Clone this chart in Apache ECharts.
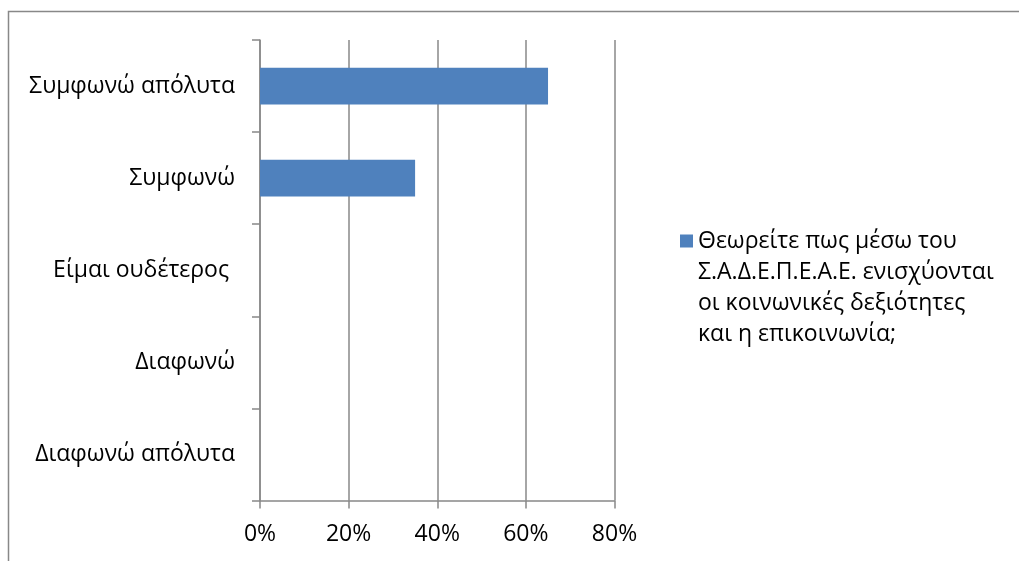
<!DOCTYPE html>
<html>
<head>
<meta charset="utf-8">
<script src="https://cdn.jsdelivr.net/npm/echarts@6/dist/echarts.min.js"></script>
<style>
  html, body { margin: 0; padding: 0; background: #ffffff; }
  #chart { width: 1019px; height: 561px; }
</style>
</head>
<body>
<div id="chart"></div>
<script>
// Answer categories, listed from the bottom of the axis to the top
const categories = ['Διαφωνώ απόλυτα', 'Διαφωνώ', 'Είμαι ουδέτερος ', 'Συμφωνώ', 'Συμφωνώ απόλυτα'];
// Share of responses per category (percent)
const shares = [0, 0, 0, 35, 65];
// Series name shown in the legend, wrapped over four lines
const seriesName = 'Θεωρείτε πως μέσω του Σ.Α.Δ.Ε.Π.Ε.Α.Ε. ενισχύονται οι κοινωνικές δεξιότητες και η επικοινωνία;';
const legendLines = ['Θεωρείτε πως μέσω του', 'Σ.Α.Δ.Ε.Π.Ε.Α.Ε. ενισχύονται', 'οι κοινωνικές δεξιότητες', 'και η επικοινωνία;'];
// Percent axis range and step
const axisMin = 0, axisMax = 80, axisStep = 20;

const FONT = 'Open Sans';
const FS = 23;
const LINE_H = 31;
const GREY = '#888888';

// The legend text block is centred on its swatch, so blank lines are put
// in front of the name to keep the swatch level with the first line.
const padLines = legendLines.length - 1;
const legendText = '\n'.repeat(padLines) + legendLines.join('\n');
const legendBlockH = LINE_H * (legendLines.length + padLines);

const chart = echarts.init(document.getElementById('chart'), null, { renderer: 'canvas' });

chart.setOption({
  animation: false,
  backgroundColor: '#ffffff',
  textStyle: { fontFamily: FONT },
  grid: { left: 260, top: 40, right: 404.5, bottom: 60.5, containLabel: false },
  graphic: [
    {
      type: 'rect',
      shape: { x: 8.5, y: 11.5, width: 2000, height: 2000 },
      style: { fill: 'none', stroke: GREY, lineWidth: 1.5 },
      silent: true
    }
  ],
  legend: {
    show: true,
    left: 680,
    top: 241 - legendBlockH / 2,
    padding: 0,
    itemWidth: 13,
    itemHeight: 13,
    icon: 'rect',
    data: [seriesName],
    formatter: () => legendText,
    textStyle: {
      fontFamily: FONT,
      fontSize: FS,
      color: '#000000',
      lineHeight: LINE_H
    }
  },
  xAxis: {
    type: 'value',
    min: axisMin,
    max: axisMax,
    interval: axisStep,
    axisLine: { show: true, lineStyle: { color: GREY, width: 1.5 } },
    axisTick: { show: true, length: 8, lineStyle: { color: GREY, width: 1.5 } },
    splitLine: { show: true, lineStyle: { color: GREY, width: 1.5 } },
    axisLabel: {
      formatter: v => v + '%',
      fontFamily: FONT,
      fontSize: FS,
      color: '#000000',
      margin: 22
    }
  },
  yAxis: {
    type: 'category',
    data: categories,
    axisLine: { show: true, lineStyle: { color: GREY, width: 1.5 } },
    axisTick: { show: true, length: 8, lineStyle: { color: GREY, width: 1.5 } },
    splitLine: { show: false },
    axisLabel: {
      fontFamily: FONT,
      fontSize: FS,
      color: '#000000',
      margin: 25
    }
  },
  series: [
    {
      name: seriesName,
      type: 'bar',
      data: shares,
      barCategoryGap: '60%',
      itemStyle: { color: '#4F81BD' },
      emphasis: { disabled: true }
    }
  ]
});
</script>
</body>
</html>
